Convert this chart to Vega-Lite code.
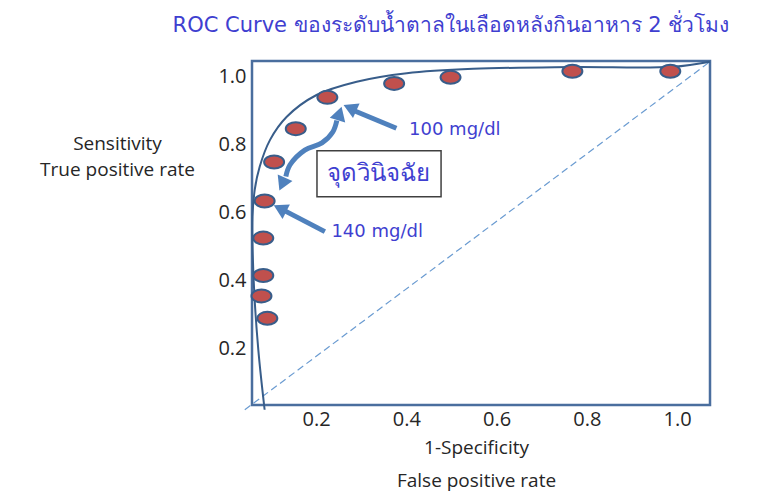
{
  "$schema": "https://vega.github.io/schema/vega-lite/v6.json",
  "autosize": "none",
  "width": 458,
  "height": 344,
  "padding": {"left": 252, "top": 61, "right": 56, "bottom": 87},
  "background": "white",
  "config": {
    "view": {"stroke": "#4A6E9E", "strokeWidth": 2.5},
    "axis": {"domain": false, "ticks": false, "grid": false, "labelFont": "Open Sans", "labelFontSize": 20, "labelColor": "#262626", "titleFont": "Open Sans", "titleFontSize": 19, "titleFontWeight": "normal", "titleColor": "#262626"}
  },
  "title": {"text": "ROC Curve ของระดับน้ำตาลในเลือดหลังกินอาหาร 2 ชั่วโมง", "fontSize": 21, "font": "DejaVu Sans", "fontWeight": "normal", "color": "#3F3FD0", "anchor": "middle", "dx": -30, "dy": 19, "offset": 24, "baseline": "alphabetic"},
  "datasets": {
    "points": [
      {"fpr": 0.086, "tpr": 0.635},
      {"fpr": 0.083, "tpr": 0.526},
      {"fpr": 0.083, "tpr": 0.416},
      {"fpr": 0.079, "tpr": 0.356},
      {"fpr": 0.092, "tpr": 0.29},
      {"fpr": 0.107, "tpr": 0.75},
      {"fpr": 0.155, "tpr": 0.848},
      {"fpr": 0.225, "tpr": 0.94},
      {"fpr": 0.373, "tpr": 0.981},
      {"fpr": 0.498, "tpr": 0.999},
      {"fpr": 0.768, "tpr": 1.017},
      {"fpr": 0.985, "tpr": 1.017}
    ],
    "curve": [
      {"i": 1, "fpr": 0.086, "tpr": 0.021},
      {"i": 2, "fpr": 0.072, "tpr": 0.197},
      {"i": 3, "fpr": 0.062, "tpr": 0.394},
      {"i": 4, "fpr": 0.059, "tpr": 0.589},
      {"i": 5, "fpr": 0.064, "tpr": 0.668},
      {"i": 6, "fpr": 0.075, "tpr": 0.736},
      {"i": 7, "fpr": 0.098, "tpr": 0.815},
      {"i": 8, "fpr": 0.135, "tpr": 0.883},
      {"i": 9, "fpr": 0.201, "tpr": 0.947},
      {"i": 10, "fpr": 0.29, "tpr": 0.986},
      {"i": 11, "fpr": 0.401, "tpr": 1.011},
      {"i": 12, "fpr": 0.548, "tpr": 1.024},
      {"i": 13, "fpr": 0.769, "tpr": 1.029},
      {"i": 14, "fpr": 0.991, "tpr": 1.03},
      {"i": 15, "fpr": 1.073, "tpr": 1.045}
    ],
    "diag": [
      {"fpr": 0.042, "tpr": 0.021},
      {"fpr": 1.073, "tpr": 1.045}
    ],
    "shafts": [
      {"x": 0.378, "y": 0.849, "x2": 0.286, "y2": 0.9},
      {"x": 0.2195, "y": 0.545, "x2": 0.131, "y2": 0.606}
    ],
    "bend": [
      {"i": 1, "x": 0.133, "y": 0.707},
      {"i": 2, "x": 0.142, "y": 0.741},
      {"i": 3, "x": 0.175, "y": 0.785},
      {"i": 4, "x": 0.213, "y": 0.806},
      {"i": 5, "x": 0.237, "y": 0.838},
      {"i": 6, "x": 0.246, "y": 0.872}
    ],
    "heads": [
      {"x": 0.275, "y": 0.909, "angle": 294},
      {"x": 0.12, "y": 0.613, "angle": 297},
      {"x": 0.252, "y": 0.893, "angle": 17},
      {"x": 0.125, "y": 0.685, "angle": 204}
    ],
    "box": [
      {"x": 0.202, "x2": 0.477, "y": 0.783, "y2": 0.648}
    ],
    "cutoffs": [
      {"x": 0.406, "y": 0.844, "text": "100 mg/dl"},
      {"x": 0.234, "y": 0.545, "text": "140 mg/dl"}
    ],
    "boxlabel": [
      {"x": 0.339, "y": 0.716, "text": "จุดวินิจฉัย"}
    ]
  },
  "layer": [
    {
      "data": {"name": "diag"},
      "mark": {"type": "line", "color": "#6A9BD1", "strokeWidth": 1.2, "strokeDash": [7, 4], "clip": false},
      "encoding": {
        "x": {"field": "fpr", "type": "quantitative", "scale": {"domain": [0.058, 1.073], "nice": false, "zero": false}, "axis": {"values": [0.2, 0.4, 0.6, 0.8, 1.0], "format": ".1f", "labelPadding": 4, "title": ["1-Specificity", "False positive rate"], "titleLineHeight": 33, "titleBaseline": "alphabetic", "titleY": 48, "titleX": 224}},
        "y": {"field": "tpr", "type": "quantitative", "scale": {"domain": [0.035, 1.047], "nice": false, "zero": false}, "axis": {"values": [0.2, 0.4, 0.6, 0.8, 1.0], "format": ".1f", "labelPadding": 6, "title": ["Sensitivity", "True positive rate"], "titleAngle": 0, "titleAlign": "center", "titleBaseline": "alphabetic", "titleLineHeight": 26, "titleX": -135, "titleY": 88}}
      }
    },
    {
      "data": {"name": "curve"},
      "mark": {"type": "line", "color": "#385D8A", "strokeWidth": 2, "interpolate": "catmull-rom", "clip": false},
      "encoding": {
        "x": {"field": "fpr", "type": "quantitative"},
        "y": {"field": "tpr", "type": "quantitative"},
        "order": {"field": "i", "type": "quantitative"}
      }
    },
    {
      "data": {"name": "points"},
      "mark": {"type": "point", "shape": "M -1 0 A 1 0.65 0 1 0 1 0 A 1 0.65 0 1 0 -1 0 Z", "size": 400, "filled": true, "fill": "#C0504D", "stroke": "#385D8A", "strokeWidth": 2, "opacity": 1},
      "encoding": {
        "x": {"field": "fpr", "type": "quantitative"},
        "y": {"field": "tpr", "type": "quantitative"}
      }
    },
    {
      "data": {"name": "shafts"},
      "mark": {"type": "rule", "color": "#4F81BD", "strokeWidth": 5},
      "encoding": {
        "x": {"field": "x", "type": "quantitative"},
        "y": {"field": "y", "type": "quantitative"},
        "x2": {"field": "x2"},
        "y2": {"field": "y2"}
      }
    },
    {
      "data": {"name": "bend"},
      "mark": {"type": "line", "color": "#4F81BD", "strokeWidth": 5, "interpolate": "catmull-rom"},
      "encoding": {
        "x": {"field": "x", "type": "quantitative"},
        "y": {"field": "y", "type": "quantitative"},
        "order": {"field": "i", "type": "quantitative"}
      }
    },
    {
      "data": {"name": "heads"},
      "mark": {"type": "point", "shape": "triangle-up", "size": 260, "filled": true, "color": "#4F81BD", "opacity": 1},
      "encoding": {
        "x": {"field": "x", "type": "quantitative"},
        "y": {"field": "y", "type": "quantitative"},
        "angle": {"field": "angle", "type": "quantitative", "scale": null}
      }
    },
    {
      "data": {"name": "box"},
      "mark": {"type": "rect", "fill": "white", "stroke": "#404040", "strokeWidth": 1.5},
      "encoding": {
        "x": {"field": "x", "type": "quantitative"},
        "x2": {"field": "x2"},
        "y": {"field": "y", "type": "quantitative"},
        "y2": {"field": "y2"}
      }
    },
    {
      "data": {"name": "cutoffs"},
      "mark": {"type": "text", "font": "DejaVu Sans", "fontSize": 18, "color": "#3F3FD0", "baseline": "middle", "align": "left"},
      "encoding": {
        "x": {"field": "x", "type": "quantitative"},
        "y": {"field": "y", "type": "quantitative"},
        "text": {"field": "text"}
      }
    },
    {
      "data": {"name": "boxlabel"},
      "mark": {"type": "text", "font": "DejaVu Sans", "fontSize": 24, "color": "#3F3FD0", "baseline": "middle", "align": "center"},
      "encoding": {
        "x": {"field": "x", "type": "quantitative"},
        "y": {"field": "y", "type": "quantitative"},
        "text": {"field": "text"}
      }
    }
  ]
}
